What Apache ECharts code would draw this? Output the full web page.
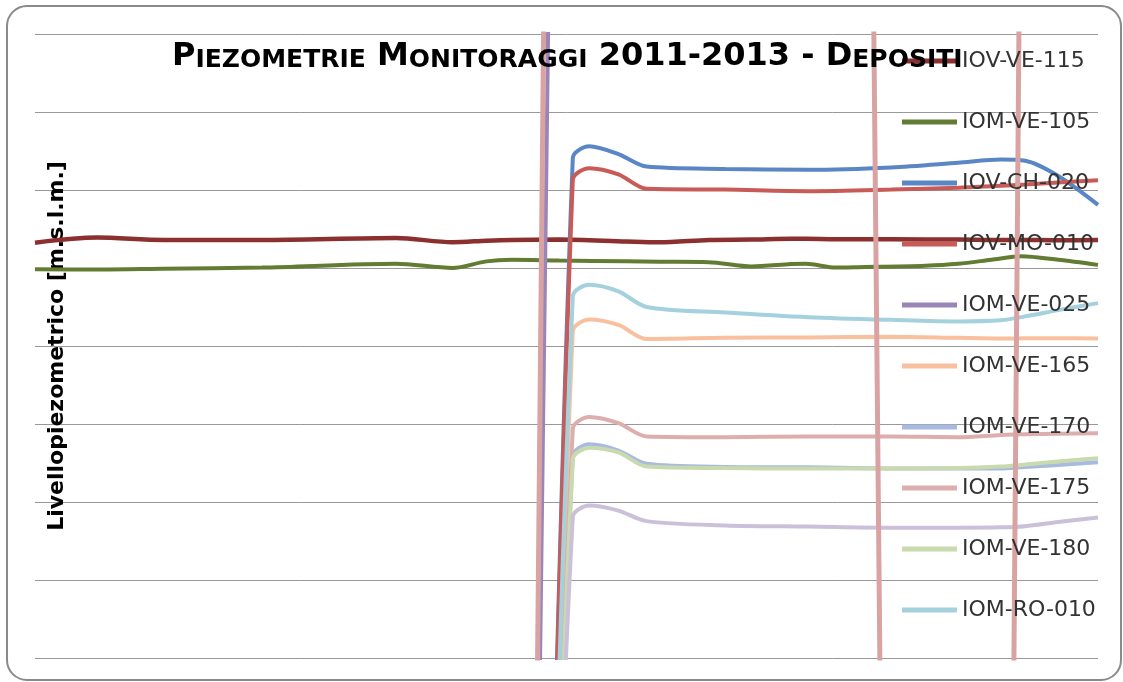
<!DOCTYPE html>
<html>
<head>
<meta charset="utf-8">
<title>Piezometrie Monitoraggi 2011-2013 - Depositi</title>
<script src="https://cdn.jsdelivr.net/npm/echarts@6/dist/echarts.min.js"></script>
<style>
  html, body { margin: 0; padding: 0; background: #fff; }
  #chart { width: 1123px; height: 682px; }
</style>
</head>
<body>
<div id="chart"></div>
<script>
// giorni dall'inizio del monitoraggio (01/2011) – serie storiche
const giorniStorici = [0, 64, 132, 234, 372, 430, 465, 491, 540, 609, 643, 694, 738, 779, 794, 825, 848, 917, 951, 985, 1016, 1054, 1095];
const iovVe115 = [153.25, 153.9, 153.6, 153.6, 153.85, 153.3, 153.5, 153.6, 153.65, 153.4, 153.3, 153.6, 153.65, 153.75, 153.75, 153.7, 153.7, 153.65, 153.65, 153.6, 153.6, 153.55, 153.6];
const iomVe105 = [149.85, 149.8, 149.9, 150.05, 150.55, 150.0, 150.85, 151.05, 150.95, 150.85, 150.8, 150.75, 150.2, 150.5, 150.55, 150.05, 150.1, 150.3, 150.55, 151.05, 151.5, 151.05, 150.4];

// nuova rete (i valori 0 sono le celle vuote lette come zero)
const giorniRete = [518, 554, 571, 601, 630, 711, 797, 882, 951, 995, 1020, 1054, 1095];
const iovCh020 = [0, 164.1, 165.6, 164.6, 163.0, 162.7, 162.6, 162.9, 163.5, 163.9, 163.75, 161.8, 158.1];
const iovMo010 = [0, 161.3, 162.8, 162.0, 160.15, 160.05, 159.85, 160.05, 160.3, 160.55, 160.7, 160.95, 161.25];
const iomVe165 = [0, 141.9, 143.4, 142.7, 140.9, 141.05, 141.1, 141.2, 141.05, 140.95, 141.0, 141.0, 140.95];
const iomVe170 = [0, 125.9, 127.4, 126.6, 124.9, 124.5, 124.45, 124.3, 124.3, 124.3, 124.5, 124.75, 125.1];
const iomVe175 = [0, 129.4, 130.9, 130.1, 128.4, 128.3, 128.4, 128.4, 128.3, 128.6, 128.7, 128.75, 128.8];
const iomVe180 = [0, 125.5, 126.95, 126.35, 124.55, 124.35, 124.3, 124.3, 124.35, 124.55, 124.8, 125.2, 125.6];
const iomRo010 = [0, 146.4, 147.85, 147.0, 145.0, 144.3, 143.7, 143.35, 143.15, 143.3, 143.8, 144.6, 145.5];
const serie11 = [0, 118.1, 119.55, 118.9, 117.55, 117.0, 116.85, 116.7, 116.7, 116.75, 116.9, 117.45, 118.0];

// serie fuori scala
const giorniVe025 = [510, 557, 1095];
const iomVe025 = [0, 457, 457];
const giorniSerie12 = [510, 557, 831, 878, 1002, 1041, 1095];
const serie12 = [0, 609, 609, 0, 0, 609, 609];

const legendNames = ['IOV-VE-115', 'IOM-VE-105', 'IOV-CH-020', 'IOV-MO-010', 'IOM-VE-025',
                     'IOM-VE-165', 'IOM-VE-170', 'IOM-VE-175', 'IOM-VE-180', 'IOM-RO-010'];

const pairs = (x, y) => x.map((d, i) => [d, y[i]]);

function linea(name, giorni, valori, color, width, smooth) {
    return {
        name: name,
        type: 'line',
        data: pairs(giorni, valori),
        symbol: 'none',
        smooth: smooth,
        clip: true,
        lineStyle: { color: color, width: width },
        itemStyle: { color: color }
    };
}

const chart = echarts.init(document.getElementById('chart'), null, { renderer: 'canvas' });

const FONT = 'DejaVu Sans';

chart.setOption({
    animation: false,
    backgroundColor: '#ffffff',
    graphic: [{
        type: 'rect',
        z: -10,
        shape: { x: 7, y: 6, width: 1114, height: 674, r: 20 },
        style: { fill: 'transparent', stroke: '#8a8a8a', lineWidth: 2 }
    }],
    title: {
        left: 172,
        top: 41,
        padding: 0,
        text: '{g|P}{p|IEZOMETRIE}{g| M}{p|ONITORAGGI}{g| 2011-2013 - D}{p|EPOSITI}',
        textStyle: {
            fontFamily: FONT, fontWeight: 'bold', fontSize: 32, color: '#000',
            rich: {
                g: { fontFamily: FONT, fontWeight: 'bold', fontSize: 32, lineHeight: 32, color: '#000', verticalAlign: 'bottom' },
                p: { fontFamily: FONT, fontWeight: 'bold', fontSize: 25, lineHeight: 25, color: '#000', verticalAlign: 'bottom' }
            }
        }
    },
    legend: {
        orient: 'vertical',
        left: 902,
        top: 50,
        padding: 0,
        icon: 'rect',
        itemWidth: 55,
        itemHeight: 5,
        itemGap: 39,
        data: legendNames,
        textStyle: { fontFamily: FONT, fontSize: 22, color: '#333' }
    },
    grid: { left: 35, right: 25, top: 34, bottom: 24 },
    xAxis: {
        type: 'value',
        min: 0,
        max: 1095,
        show: false
    },
    yAxis: {
        type: 'value',
        min: 100,
        max: 180,
        interval: 10,
        name: 'Livellopiezometrico [m.s.l.m.]',
        nameLocation: 'middle',
        nameGap: -33,
        nameTextStyle: { fontFamily: FONT, fontWeight: 'bold', fontSize: 22, color: '#000' },
        axisLine: { show: false },
        axisTick: { show: false },
        axisLabel: { show: false },
        splitLine: { show: true, lineStyle: { color: '#999999', width: 1 } }
    },
    series: [
        linea('IOV-VE-115', giorniStorici, iovVe115, '#8b2f2f', 4.5, 0.3),
        linea('IOM-VE-105', giorniStorici, iomVe105, '#637c33', 4, 0.3),
        linea('IOV-CH-020', giorniRete, iovCh020, '#5a86c5', 4, 0.3),
        linea('IOV-MO-010', giorniRete, iovMo010, '#c85a57', 4, 0.3),
        linea('IOM-VE-025', giorniVe025, iomVe025, '#9a85b8', 4, false),
        linea('IOM-VE-165', giorniRete, iomVe165, '#f9c09f', 4, 0.3),
        linea('IOM-VE-170', giorniRete, iomVe170, '#a7bae0', 4, 0.3),
        linea('IOM-VE-175', giorniRete, iomVe175, '#dcafae', 4, 0.3),
        linea('IOM-VE-180', giorniRete, iomVe180, '#c8daae', 4, 0.3),
        linea('IOM-RO-010', giorniRete, iomRo010, '#a5d0dd', 4, 0.3),
        linea('Serie 11', giorniRete, serie11, '#cbc0da', 4, 0.3),
        linea('Serie 12', giorniSerie12, serie12, '#d9a3a3', 5, false)
    ]
});
</script>
</body>
</html>
